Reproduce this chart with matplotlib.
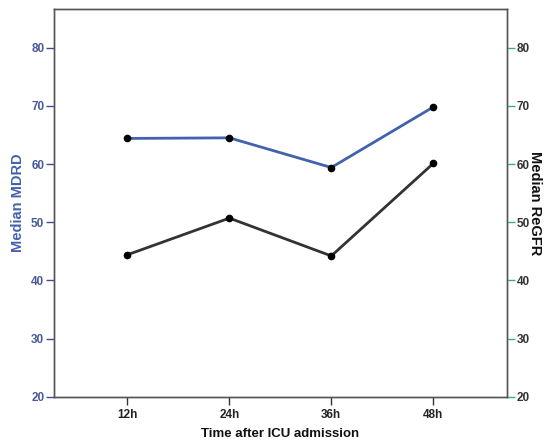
import matplotlib
matplotlib.use("Agg")
import matplotlib.pyplot as plt

categories = ["12h", "24h", "36h", "48h"]
mdrd = [64.4, 64.5, 59.4, 69.8]
regfr = [44.4, 50.7, 44.2, 60.1]
yticks = [20, 30, 40, 50, 60, 70, 80]

plt.rcParams['font.family'] = ['Liberation Sans', 'DejaVu Sans']

fig = plt.figure(figsize=(5.44, 4.43), dpi=100)
ax = fig.add_axes([0.0993, 0.1045, 0.8321, 0.8752])
ax2 = ax.twinx()

x = list(range(len(categories)))
blue = "#4262ae"
ax.plot(x, mdrd, color=blue, lw=2, marker='o', ms=4.5, mfc='black', mec='black', zorder=3)
ax2.plot(x, regfr, color="#333333", lw=2, marker='o', ms=4.5, mfc='black', mec='black', zorder=3)

for a in (ax, ax2):
    a.set_ylim(20, 86.65)
    a.set_yticks(yticks)
    a.set_xlim(-0.72, 3.72)
ax.set_xticks(x)
ax.set_xticklabels(categories, fontsize=8.5, fontweight='bold', color='#222222')

ax.tick_params(axis='y', colors='#3a4f9a', labelsize=8.5, length=6, width=1, pad=1)
for t in ax.get_yticklabels():
    t.set_fontweight('bold')
    t.set_color('#4a5a9a')
ax.tick_params(axis='x', length=6, width=1, color='#333333', pad=3)
ax2.tick_params(axis='y', colors='#3cb371', labelsize=8.5, length=6, width=1, pad=1)
for t in ax2.get_yticklabels():
    t.set_fontweight('bold')
    t.set_color('#333333')

for a in (ax, ax2):
    for s in a.spines.values():
        s.set_color('#555555')
        s.set_linewidth(1)

ax.set_xlabel("Time after ICU admission", fontsize=9.5, fontweight='bold', color='#111111', labelpad=5)
ax.set_ylabel("Median MDRD", fontsize=10.5, fontweight='bold', color=blue, labelpad=4)
ax2.set_ylabel("Median ReGFR", fontsize=10.5, fontweight='bold', color='#111111', rotation=270, labelpad=9)

fig.savefig("out.png", dpi=100)
